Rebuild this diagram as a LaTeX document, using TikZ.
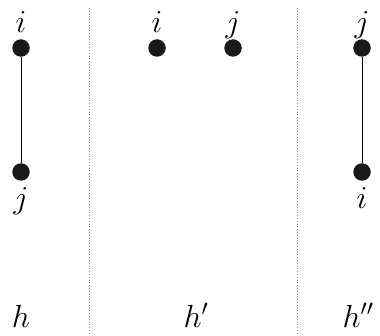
\RequirePackage{fix-cm}
\documentclass[tikz,border=0pt]{standalone}
\usepackage{amsmath,amssymb}
\usepackage{tikz}
\usetikzlibrary{positioning}

\begin{document}
\begin{tikzpicture}[x=1pt, y=1pt, font=\fontsize{32}{36}\selectfont,
    vtx/.style={circle, fill=black!90, inner sep=0pt, minimum size=17.5pt},
    lab/.style={inner sep=0pt, text depth=0pt},
    sep/.style={gray, dotted, line width=0.8pt}]
    \useasboundingbox (0,0) rectangle (380,335);
    % three graphs h, h', h''
    \node[vtx] (hi) at (21,287) {};
    \node[vtx] (hj) at (21,163) {};
    \node[vtx] (gi) at (157,287) {};
    \node[vtx] (gj) at (233,287) {};
    \node[vtx] (kj) at (362,287) {};
    \node[vtx] (ki) at (362,163) {};
    \draw[line width=0.9pt] (hi) -- (hj);
    \draw[line width=0.9pt] (kj) -- (ki);
    \node[lab, above=6pt of hi] (lhi) {$i$};
    \node[lab, below=6pt of hj] (lhj) {$j$};
    \node[lab, above=6pt of gi] (lgi) {$i$};
    \node[lab, above=6pt of gj] (lgj) {$j$};
    \node[lab, above=6pt of kj] (lkj) {$j$};
    \node[lab, below=6pt of ki] (lki) {$i$};
    % separators
    \coordinate (s1t) at (89,327);
    \coordinate (s1b) at (89,2);
    \coordinate (s2t) at (297,327);
    \coordinate (s2b) at (297,2);
    \draw[sep] (s1t) -- (s1b);
    \draw[sep] (s2t) -- (s2b);
    \node[anchor=base] (nh) at (21,8) {$h$};
    \node[anchor=base] (nh1) at (196,8) {$h'$};
    \node[anchor=base] (nh2) at (358,8) {$h''$};
\end{tikzpicture}
\end{document}
